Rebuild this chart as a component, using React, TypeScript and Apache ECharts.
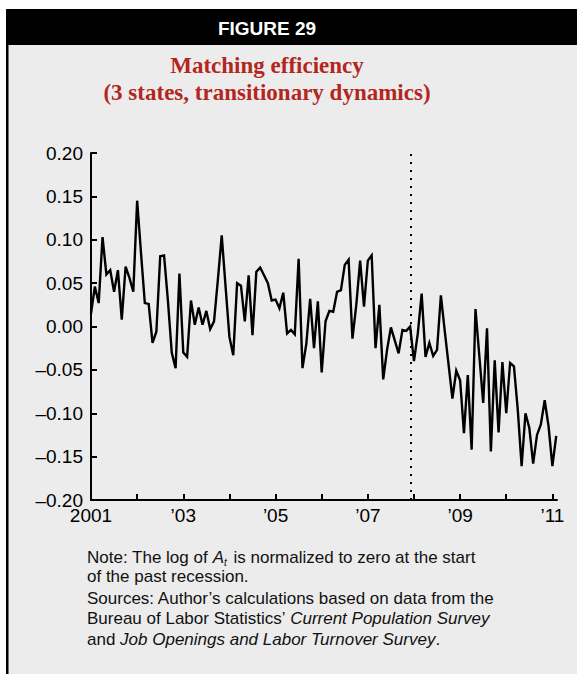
import React, { useEffect, useRef } from 'react';
import * as echarts from 'echarts';

// Monthly values, Jan 2001 .. Feb 2011 (log of matching efficiency, normalized)
const START_YEAR = 2001;
const efficiency: number[] = [
  0.015, 0.046, 0.027, 0.103, 0.060, 0.065, 0.040, 0.065, 0.008, 0.069, 0.056, 0.040,
  0.145, 0.085, 0.027, 0.026, -0.019, -0.006, 0.081, 0.082, 0.030, -0.030, -0.048, 0.061,
  -0.030, -0.035, 0.030, 0.002, 0.022, 0.002, 0.018, -0.003, 0.006, 0.054, 0.105, 0.046,
  -0.012, -0.033, 0.050, 0.047, 0.006, 0.059, -0.010, 0.063, 0.068, 0.059, 0.050, 0.030,
  0.031, 0.021, 0.039, -0.008, -0.004, -0.009, 0.078, -0.048, -0.020, 0.032, -0.025, 0.029,
  -0.053, 0.006, 0.018, 0.017, 0.040, 0.042, 0.071, 0.077, -0.014, 0.025, 0.076, 0.023,
  0.076, 0.082, -0.025, 0.025, -0.061, -0.027, -0.001, -0.016, -0.031, -0.004, -0.005, 0.000,
  -0.040, -0.008, 0.038, -0.035, -0.019, -0.034, -0.027, 0.036, -0.005, -0.044, -0.083, -0.051,
  -0.062, -0.123, -0.056, -0.142, 0.020, -0.034, -0.088, -0.002, -0.144, -0.039, -0.122, -0.041,
  -0.100, -0.042, -0.046, -0.096, -0.161, -0.100, -0.117, -0.158, -0.125, -0.113, -0.085, -0.115,
  -0.161, -0.126,
];

const xTickYears = [2001, 2002, 2003, 2004, 2005, 2006, 2007, 2008, 2009, 2010, 2011];
const xLabelYears = [2001, 2003, 2005, 2007, 2009, 2011];
const yMin = -0.2;
const yMax = 0.2;
const yStep = 0.05;
const recessionStart = 2007 + 11 / 12; // Dec 2007

const headerText = 'FIGURE 29';
const titleLines = ['Matching efficiency', '(3 states, transitionary dynamics)'];
const noteLines = [
  'Note: The log of {i|A}{s|t} is normalized to zero at the start',
  'of the past recession.',
  'Sources: Author\u2019s calculations based on data from the',
  'Bureau of Labor Statistics\u2019 {i|Current Population Survey}',
  'and {i|Job Openings and Labor Turnover Survey}.',
];

const SANS = '"Liberation Sans", Arial, Helvetica, sans-serif';
const SERIF = '"Liberation Serif", "Times New Roman", serif';
const TITLE_RED = '#b3261e';

export default function App() {
  const ref = useRef<HTMLDivElement>(null);

  useEffect(() => {
    if (!ref.current) return;
    const chart = echarts.init(ref.current, null, { renderer: 'svg' });

    const seriesData = efficiency.map((v, i) => [START_YEAR + i / 12, v]);
    const noteY = [557, 576, 598.5, 618.5, 639.5];

    chart.setOption({
      animation: false,
      backgroundColor: '#ececec',
      grid: {
        left: 91,
        right: 20,
        top: 153,
        bottom: 174,
        containLabel: false,
        outerBoundsMode: 'none',
      },
      xAxis: {
        type: 'value',
        min: START_YEAR,
        max: 2011.1,
        interval: 1,
        axisLine: { show: true, onZero: false, lineStyle: { color: '#000', width: 2 } },
        axisTick: {
          show: true,
          inside: true,
          length: 6,
          lineStyle: { color: '#000', width: 2 },
          customValues: xTickYears,
        },
        axisLabel: {
          show: true,
          customValues: xLabelYears,
          margin: 6,
          color: '#000',
          fontSize: 19,
          fontFamily: SANS,
          formatter: (v: number) => (v === 2001 ? '2001' : '\u2019' + String(v).slice(2)),
        },
        splitLine: { show: false },
      },
      yAxis: {
        type: 'value',
        min: yMin,
        max: yMax,
        interval: yStep,
        axisLine: { show: true, lineStyle: { color: '#000', width: 2 } },
        axisTick: { show: true, inside: true, length: 6, lineStyle: { color: '#000', width: 2 } },
        axisLabel: {
          margin: 8,
          color: '#000',
          fontSize: 19,
          fontFamily: SANS,
          formatter: (v: number) =>
            Math.abs(v) < 1e-9 ? '0.00' : (v < 0 ? '\u2013' : '') + Math.abs(v).toFixed(2),
        },
        splitLine: { show: false },
      },
      series: [
        {
          type: 'line',
          data: seriesData,
          showSymbol: false,
          symbol: 'none',
          lineStyle: { color: '#000', width: 2.4, join: 'miter' },
          silent: true,
          markLine: {
            silent: true,
            symbol: ['none', 'none'],
            label: { show: false },
            lineStyle: { color: '#000', width: 2, type: [2, 6] },
            data: [{ xAxis: recessionStart }],
          },
        },
      ],
      graphic: [
        { type: 'rect', shape: { x: 0, y: 0, width: 577, height: 9 }, style: { fill: '#fff' }, silent: true },
        { type: 'rect', shape: { x: 0, y: 0, width: 6, height: 674 }, style: { fill: '#fff' }, silent: true },
        { type: 'rect', shape: { x: 6, y: 9, width: 2.5, height: 665 }, style: { fill: '#000' }, silent: true },
        { type: 'rect', shape: { x: 6, y: 9, width: 571, height: 36 }, style: { fill: '#000' }, silent: true },
        {
          type: 'text',
          silent: true,
          style: {
            x: 267,
            y: 28,
            text: headerText,
            fill: '#fff',
            fontSize: 19,
            fontWeight: 'bold',
            fontFamily: SANS,
            align: 'center',
            verticalAlign: 'middle',
          },
        },
        ...titleLines.map((t, k) => ({
          type: 'text',
          silent: true,
          style: {
            x: 267,
            y: 65 + k * 27.5,
            text: t,
            fill: TITLE_RED,
            fontSize: 23,
            fontWeight: 'bold',
            fontFamily: SERIF,
            align: 'center',
            verticalAlign: 'middle',
          },
        })),
        ...noteLines.map((t, k) => ({
          type: 'text',
          silent: true,
          style: {
            x: 87,
            y: noteY[k],
            text: t,
            fill: '#111',
            fontSize: 17,
            fontFamily: SANS,
            align: 'left',
            verticalAlign: 'middle',
            lineHeight: 20,
            rich: {
              i: { fontStyle: 'italic', fontSize: 17, fontFamily: SANS, fill: '#111', lineHeight: 20 },
              s: {
                fontStyle: 'italic',
                fontSize: 10,
                fontFamily: SANS,
                fill: '#111',
                lineHeight: 20,
                verticalAlign: 'bottom',
                padding: [0, 2, 0, 0],
              },
            },
          },
        })),
      ],
    });

    return () => chart.dispose();
  }, []);

  return (
    <div
      ref={ref}
      style={{ position: 'absolute', left: 0, top: 0, width: 577, height: 674 }}
    />
  );
}
